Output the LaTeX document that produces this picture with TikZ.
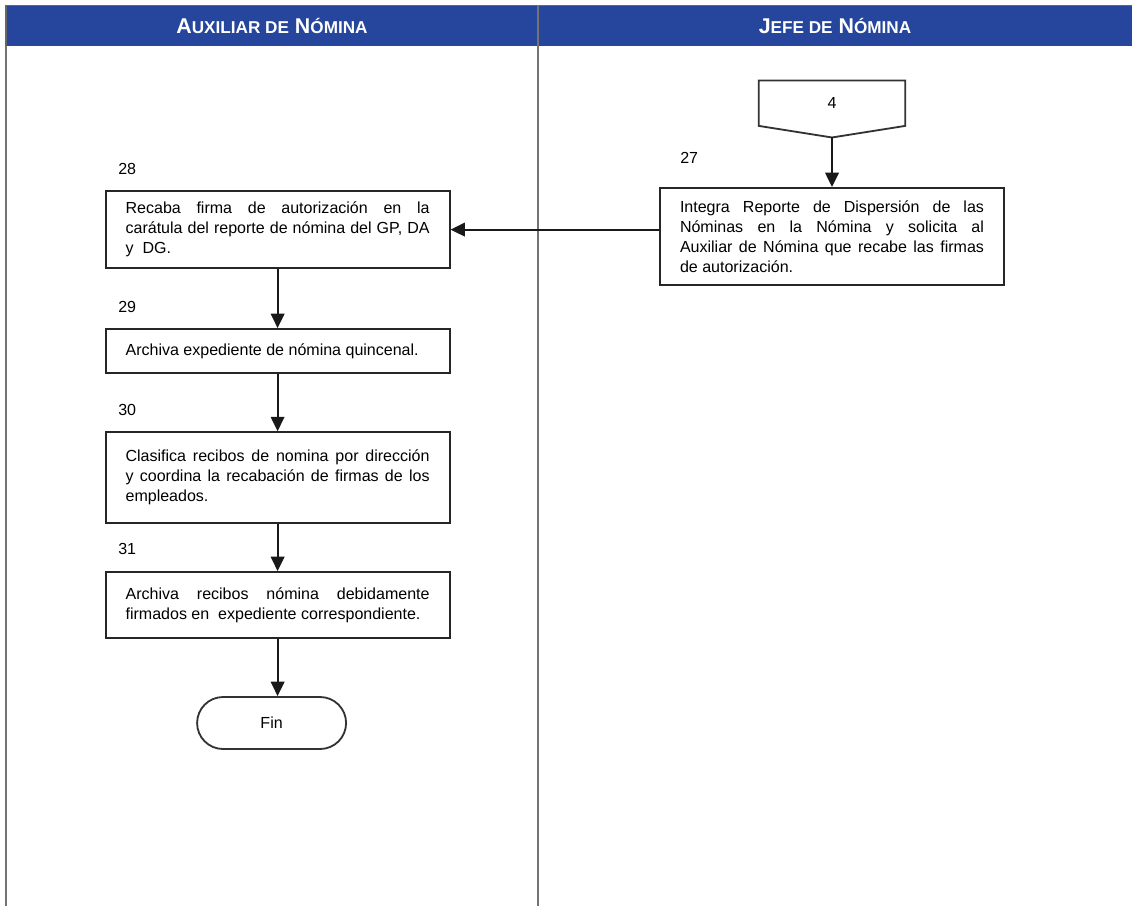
\documentclass[tikz,border=0pt]{standalone}
\usepackage{fontspec}
\setmainfont{Liberation Sans}
\usepackage{tikz}
\usetikzlibrary{positioning,arrows.meta}
\definecolor{hdblue}{RGB}{38,70,158}
\definecolor{lanegray}{RGB}{115,115,115}
\newcommand{\smc}[1]{{\fontsize{12.2pt}{14pt}\selectfont #1}}
\tikzset{
  act/.style={rectangle, fill=white, draw=black!85, line width=1.3pt, text width=7.6cm,
    inner xsep=0.5cm, inner ysep=0pt, align=justify, font=\fontsize{11.4pt}{14.2pt}\selectfont},
  finbox/.style={rectangle, rounded corners=0.65cm, draw=black!80, line width=1.3pt,
    minimum width=3.725cm, minimum height=1.3cm, font=\fontsize{11.4pt}{14.2pt}\selectfont},
  offp/.style={draw=black!80, line width=1.3pt},
  num/.style={anchor=west, inner sep=0pt, font=\fontsize{11.4pt}{14.2pt}\selectfont},
  hd/.style={text=white, font=\bfseries\fontsize{15.2pt}{18pt}\selectfont},
  lane/.style={draw=lanegray, line width=0.8pt},
  flow/.style={draw=black!90, line width=1.4pt, -{Triangle[length=3.6mm,width=3.4mm]}}
}

\begin{document}
\begin{tikzpicture}
  \useasboundingbox (0,0) rectangle (28.3,-22.65);
  \fill[white] (0,0) rectangle (28.3,-22.65);
  % swimlanes
  \fill[hdblue] (0.15,-0.13) rectangle (28.3,-1.15);
  \draw[black!60, line width=0.8pt] (0.15,-1.15) -- (0.15,-0.13) -- (28.3,-0.13);
  \draw[lane] (0.15,-1.15) -- (0.15,-22.65);
  \draw[lane] (13.45,-0.13) -- (13.45,-22.65);
  \node[hd] (hA) at (6.8,-0.64) {A\smc{UXILIAR DE} N\smc{ÓMINA}};
  \node[hd] (hJ) at (20.875,-0.64) {J\smc{EFE DE} N\smc{ÓMINA}};

  % off-page connector
  \node[minimum width=3.65cm, minimum height=1.12cm, inner sep=0pt,
    font=\fontsize{11.4pt}{14.2pt}\selectfont] (c4) at (20.8,-2.58) {4};
  \coordinate[below=0.29cm of c4.south] (c4tip);
  \draw[offp] (c4.south west) -- (c4.north west) -- (c4.north east)
    -- (c4.south east) -- (c4tip) -- cycle;

  \node[num] (l27) at (17.0,-3.95) {27};
  \node[act, minimum height=2.425cm] (b27) at (20.8,-5.91)
    {Integra Reporte de Dispersión de las\linebreak Nóminas en la Nómina y solicita al\linebreak
     Auxiliar de Nómina que recabe las firmas\linebreak de autorización.};

  \node[num] (l28) at (2.95,-4.225) {28};
  \node[act, minimum height=1.925cm] (b28) at (6.94,-5.74)
    {Recaba firma de autorización en la\linebreak carátula del reporte de nómina del GP, DA\linebreak y~ DG.};

  \node[num] (l29) at (2.95,-7.675) {29};
  \node[act, minimum height=1.1cm] (b29) at (6.94,-8.775)
    {Archiva expediente de nómina quincenal.};

  \node[num] (l30) at (2.95,-10.25) {30};
  \node[act, minimum height=2.275cm] (b30) at (6.94,-11.94)
    {Clasifica recibos de nomina por dirección\linebreak y coordina la recabación de firmas de los\linebreak empleados.};

  \node[num] (l31) at (2.95,-13.72) {31};
  \node[act, minimum height=1.65cm] (b31) at (6.94,-15.125)
    {Archiva recibos nómina debidamente\linebreak firmados en~ expediente correspondiente.};

  \node[finbox] (fin) at (6.79,-18.075) {Fin};

  \draw[flow] (c4tip) -- (c4tip |- b27.north);
  \draw[flow] (b27.west |- b28.east) -- (b28.east);
  \draw[flow] (b28.south) -- (b29.north);
  \draw[flow] (b29.south) -- (b30.north);
  \draw[flow] (b30.south) -- (b31.north);
  \draw[flow] (b31.south) -- (b31.south |- fin.north);
\end{tikzpicture}
\end{document}
